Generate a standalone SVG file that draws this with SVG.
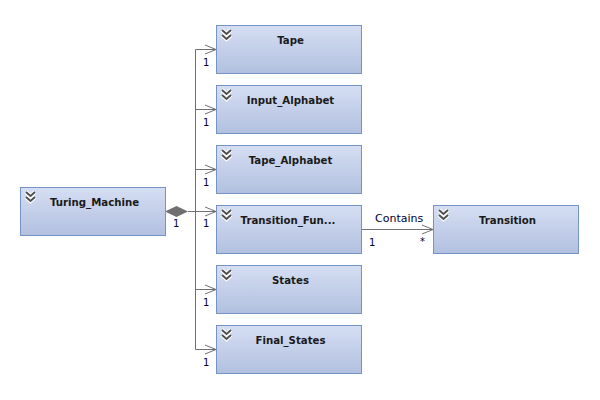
<svg xmlns="http://www.w3.org/2000/svg" width="600" height="400" viewBox="0 0 600 400">
<defs>
<linearGradient id="g" x1="0" y1="0" x2="0" y2="1">
<stop offset="0" stop-color="#d5def2"/>
<stop offset="1" stop-color="#b2c0e0"/>
</linearGradient>
<g id="chev">
<polyline points="0,0 4.5,4 9,0" fill="none" stroke="#fff" stroke-width="4.2"/>
<polyline points="0,5 4.5,9 9,5" fill="none" stroke="#fff" stroke-width="4.2"/>
<polyline points="0,0 4.5,4 9,0" fill="none" stroke="#505050" stroke-width="2"/>
<polyline points="0,5 4.5,9 9,5" fill="none" stroke="#505050" stroke-width="2"/>
</g>
</defs>
<style>
.box{fill:url(#g);stroke:#7494c8;stroke-width:1}
.t{font-family:"DejaVu Sans",Verdana,sans-serif;font-size:10.2px;font-weight:bold;fill:#1a1a1a;text-anchor:middle}
.m{font-family:"DejaVu Sans",Verdana,sans-serif;font-size:10px;fill:#000033}
.ln{fill:none;stroke:#707070;stroke-width:1}
</style>
<rect width="600" height="400" fill="#fff"/>
<g id="connectors">
<path class="ln" d="M188,211.5 H195.5 M195.5,49.5 V349.5"/>
<path class="ln" d="M195.5,49.5 H216 M195.5,109.5 H216 M195.5,169.5 H216 M195.5,211.5 H216 M195.5,289.5 H216 M195.5,349.5 H216"/>
<path class="ln" d="M205,45 L216,49.5 L205,54 M205,105 L216,109.5 L205,114 M205,165 L216,169.5 L205,174 M205,207 L216,211.5 L205,216 M205,285 L216,289.5 L205,294 M205,345 L216,349.5 L205,354"/>
<polygon points="165,211.5 176.5,206 188,211.5 176.5,217" fill="#707070"/>
<path class="ln" d="M361,229.5 H433 M422,225 L433,229.5 L422,234"/>
<text class="m" x="173" y="227">1</text>
<text class="m" x="203" y="66">1</text>
<text class="m" x="203" y="126">1</text>
<text class="m" x="203" y="186">1</text>
<text class="m" x="203" y="227">1</text>
<text class="m" x="203" y="306">1</text>
<text class="m" x="203" y="366">1</text>
<text class="m" x="375" y="222" style="font-size:11px">Contains</text>
<text class="m" x="369" y="246">1</text>
<text class="m" x="420" y="245">*</text>
</g>
<g id="turing_machine"><rect class="box" x="20.5" y="187.5" width="145" height="48"/><use href="#chev" x="26" y="192"/><text class="t" x="94.5" y="206">Turing_Machine</text></g>
<g id="tape"><rect class="box" x="216.5" y="25.5" width="145" height="48"/><use href="#chev" x="222" y="30"/><text class="t" x="290.5" y="44">Tape</text></g>
<g id="input_alphabet"><rect class="box" x="216.5" y="85.5" width="145" height="48"/><use href="#chev" x="222" y="90"/><text class="t" x="290.5" y="104">Input_Alphabet</text></g>
<g id="tape_alphabet"><rect class="box" x="216.5" y="145.5" width="145" height="48"/><use href="#chev" x="222" y="150"/><text class="t" x="290.5" y="164">Tape_Alphabet</text></g>
<g id="transition_function"><rect class="box" x="216.5" y="205.5" width="145" height="48"/><use href="#chev" x="222" y="210"/><text class="t" x="288" y="224">Transition_Fun...</text></g>
<g id="states"><rect class="box" x="216.5" y="265.5" width="145" height="48"/><use href="#chev" x="222" y="270"/><text class="t" x="290.5" y="284">States</text></g>
<g id="final_states"><rect class="box" x="216.5" y="325.5" width="145" height="48"/><use href="#chev" x="222" y="330"/><text class="t" x="290.5" y="344">Final_States</text></g>
<g id="transition"><rect class="box" x="433.5" y="205.5" width="145" height="48"/><use href="#chev" x="439" y="210"/><text class="t" x="507.5" y="224">Transition</text></g>
</svg>
